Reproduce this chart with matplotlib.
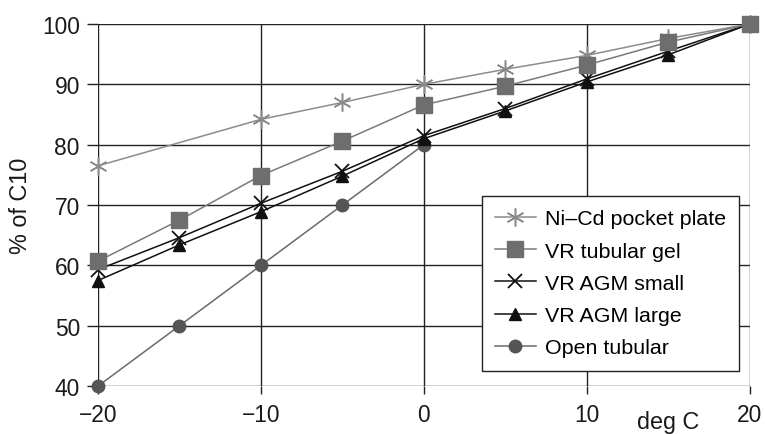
import matplotlib
matplotlib.use("Agg")
import matplotlib.pyplot as plt

plt.rcParams['font.family'] = ['Liberation Sans', 'DejaVu Sans']

temps = [-20, -15, -10, -5, 0, 5, 10, 15, 20]
temps_open = [-20, -15, -10, -5, 0]

# Ni-Cd pocket plate has no reading at -15 deg C
nicd_pocket = [76.5, None, 84.2, 87.0, 90.0, 92.5, 94.8, 97.6, 100.0]
vr_tubular_gel = [60.7, 67.5, 74.9, 80.6, 86.6, 89.7, 93.2, 97.0, 100.0]
vr_agm_small = [59.3, 64.6, 70.3, 75.6, 81.5, 86.0, 90.9, 95.5, 100.0]
vr_agm_large = [57.5, 63.4, 68.9, 74.8, 81.0, 85.6, 90.4, 94.9, 100.0]
open_tubular = [40.0, 50.0, 60.0, 70.0, 80.0]

x_ticks = [-20, -10, 0, 10, 20]
x_tick_labels = ['\u221220', '\u221210', '0', '10', '20']
y_ticks = [40, 50, 60, 70, 80, 90, 100]

fig = plt.figure(figsize=(7.65, 4.35), dpi=100)
ax = fig.add_axes([0.128, 0.110, 0.852, 0.8325])

nicd_x = [t for t, v in zip(temps, nicd_pocket) if v is not None]
nicd_y = [v for v in nicd_pocket if v is not None]

ax.plot(nicd_x, nicd_y, color='#8c8c8c', lw=1.1, marker=(6, 2, 0), ms=13,
        mew=1.1, mec='#8a8a8a', label='Ni\u2013Cd pocket plate', zorder=3,
        clip_on=False)
ax.plot(temps, vr_tubular_gel, color='#7a7a7a', lw=1.1, marker='s', ms=11,
        mfc='#6e6e6e', mec='#6e6e6e', label='VR tubular gel', zorder=5,
        clip_on=False)
ax.plot(temps, vr_agm_small, color='#111111', lw=1.1, marker='x', ms=10,
        mew=1.3, mec='#111111', label='VR AGM small', zorder=4,
        clip_on=False)
ax.plot(temps, vr_agm_large, color='#111111', lw=1.1, marker='^', ms=9,
        mfc='#111111', mec='#111111', label='VR AGM large', zorder=4,
        clip_on=False)
ax.plot(temps_open, open_tubular, color='#6a6a6a', lw=1.1, marker='o', ms=9,
        mfc='#555555', mec='#555555', label='Open tubular', zorder=3,
        clip_on=False)

ax.set_xlim(-20, 20)
ax.set_ylim(40, 100)
ax.set_xticks(x_ticks)
ax.set_xticklabels(x_tick_labels)
ax.set_yticks(y_ticks)

for s in ax.spines.values():
    s.set_visible(False)
ax.grid(True, color='#222222', lw=1.0)
ax.tick_params(axis='both', direction='out', width=1.0,
               color='#222222', labelsize=16.4, labelcolor='#1a1a1a')
ax.tick_params(axis='x', length=5.8, pad=6)
ax.tick_params(axis='y', length=8, pad=5)

ax.set_ylabel('% of C10', fontsize=16.8, color='#1a1a1a', labelpad=7)
fig.text(0.874, 1 - 411 / 435, 'deg C', fontsize=16.8, color='#1a1a1a',
         ha='center', va='top')

leg = ax.legend(loc='upper left', bbox_to_anchor=(0.589, 0.525), borderaxespad=0,
                fontsize=15.4, frameon=True, fancybox=False, edgecolor='#222222',
                framealpha=1, handlelength=1.9, handletextpad=0.42,
                labelspacing=0.62, borderpad=0.62)
leg.get_frame().set_linewidth(1.0)
leg.set_zorder(6)

fig.savefig('out.png', dpi=100)
